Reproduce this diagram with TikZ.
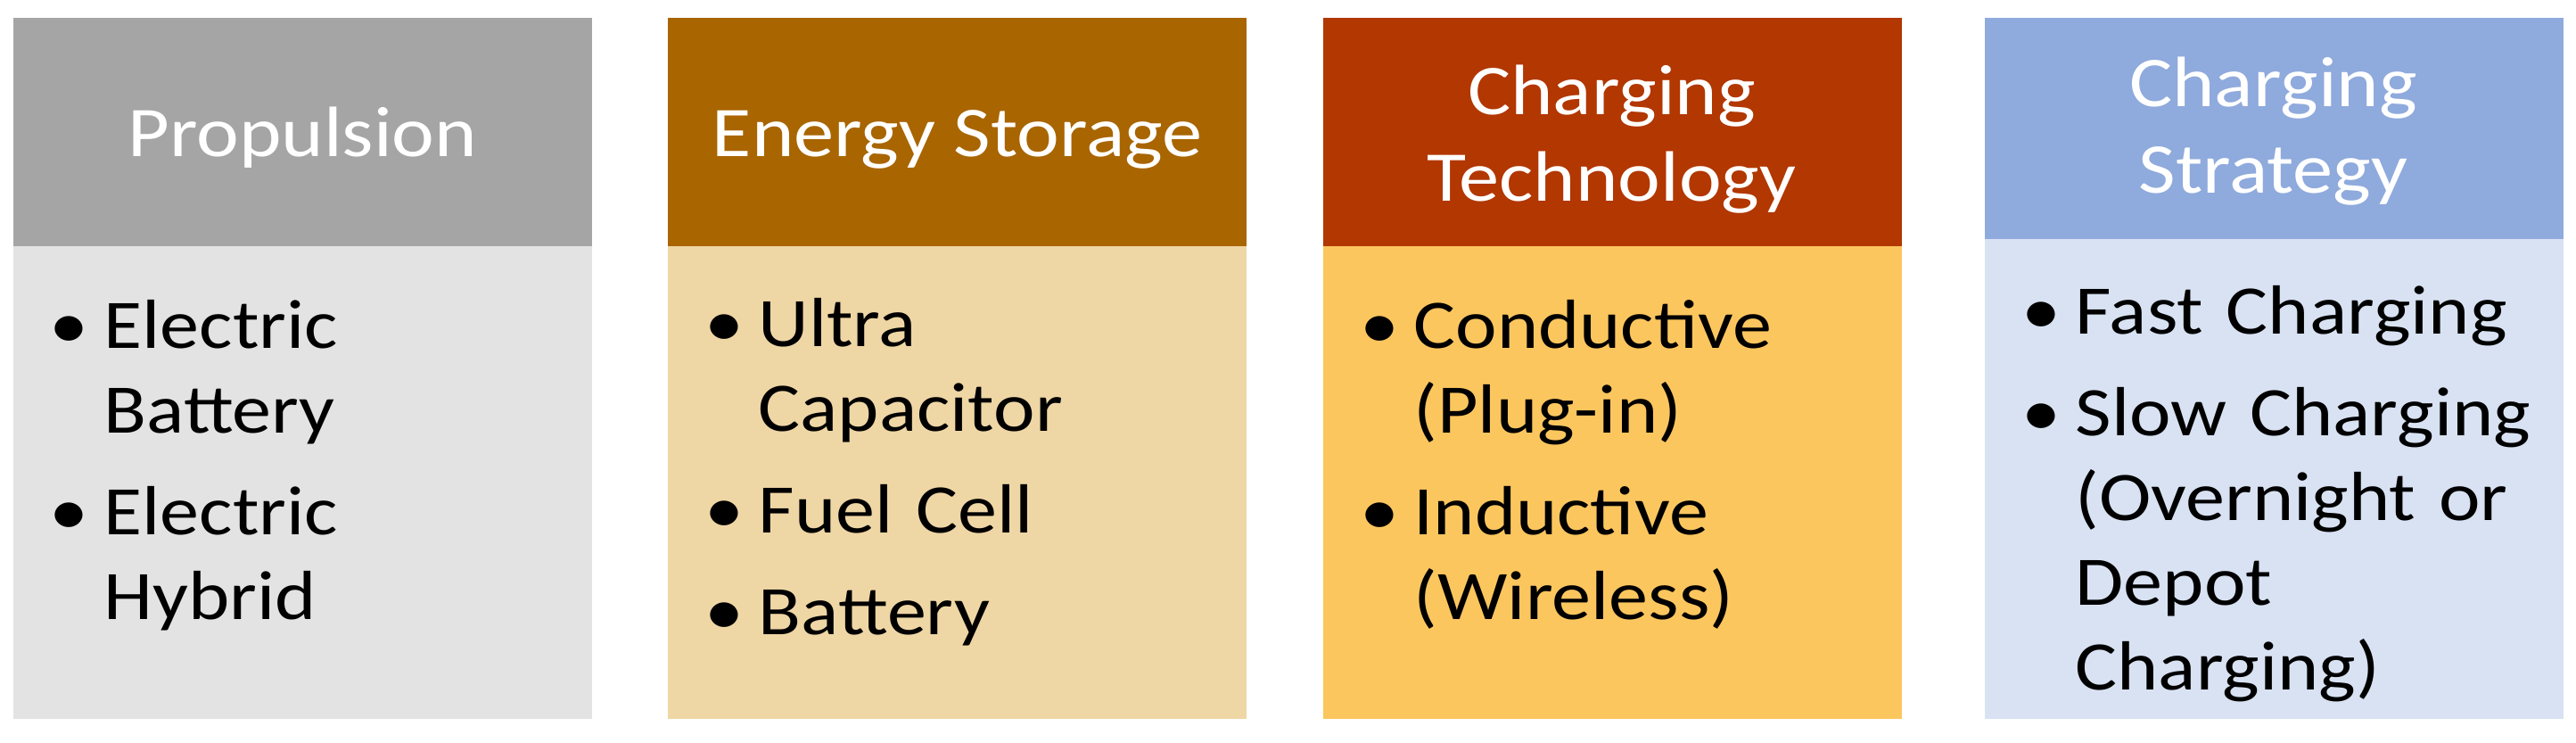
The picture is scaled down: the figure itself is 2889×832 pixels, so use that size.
\documentclass[tikz,border=0pt]{standalone}
\usepackage{fontspec}
\setmainfont{Carlito}[FakeStretch=1.13]
\definecolor{hA}{HTML}{A5A5A5}
\definecolor{bA}{HTML}{E3E3E3}
\definecolor{hB}{HTML}{A96500}
\definecolor{bB}{HTML}{EFD6A5}
\definecolor{hC}{HTML}{B23700}
\definecolor{bC}{HTML}{FCC65E}
\definecolor{hD}{HTML}{8FAADC}
\definecolor{bD}{HTML}{D8E2F2}
\newcommand\bitem[1]{\noindent\hangindent=16.2pt\hangafter=1\makebox[16.2pt][l]{\hspace{-2pt}•}#1\par\vspace{5.7pt}}
\begin{document}
\begin{tikzpicture}[x=0.3pt,y=-0.3pt,
  hdr/.style={draw=none,minimum width=194.7pt,inner sep=0pt,outer sep=0pt,anchor=north west},
  bdy/.style={draw=none,minimum width=194.7pt,inner sep=0pt,outer sep=0pt,anchor=north west},
  htext/.style={text=white,font=\fontsize{24}{29.1}\selectfont,align=center,anchor=base,inner sep=0pt},
  list/.style={anchor=base west,inner sep=0pt,text width=185pt,font=\fontsize{23.4}{28.5}\selectfont}]
\path[use as bounding box] (0,0) rectangle (2889,832);
% box 1
\node[hdr,fill=hA,minimum height=76.8pt] (h1) at (15,20) {};
\node[bdy,fill=bA,minimum height=159pt] (b1) at (15,276) {};
\node[htext] (t1) at (339.5,175) {Propulsion};
\node[list] (l1) at (62,390) {\bitem{Electric\newline Battery}\bitem{Electric\newline Hybrid}};
% box 2
\node[hdr,fill=hB,minimum height=76.8pt] (h2) at (749,20) {};
\node[bdy,fill=bB,minimum height=159pt] (b2) at (749,276) {};
\node[htext] (t2) at (1073.5,175) {Energy Storage};
\node[list] (l2) at (796,388) {\bitem{Ultra\newline Capacitor}\bitem{Fuel Cell}\bitem{Battery}};
% box 3
\node[hdr,fill=hC,minimum height=76.8pt] (h3) at (1484,20) {};
\node[bdy,fill=bC,minimum height=159pt] (b3) at (1484,276) {};
\node[htext] (t3) at (1807.5,225) {Charging\\Technology};
\node[list] (l3) at (1531,390) {\bitem{Conductive\newline (Plug-in)}\bitem{Inductive\newline (Wireless)}};
% box 4
\node[hdr,fill=hD,minimum height=74.4pt] (h4) at (2226,20) {};
\node[bdy,fill=bD,minimum height=161.4pt] (b4) at (2226,268) {};
\node[htext] (t4) at (2549.5,216) {Charging\\Strategy};
\node[list] (l4) at (2273,374) {\bitem{Fast Charging}\bitem{Slow Charging\newline (Overnight or\newline Depot\newline Charging)}};
\end{tikzpicture}
\end{document}
